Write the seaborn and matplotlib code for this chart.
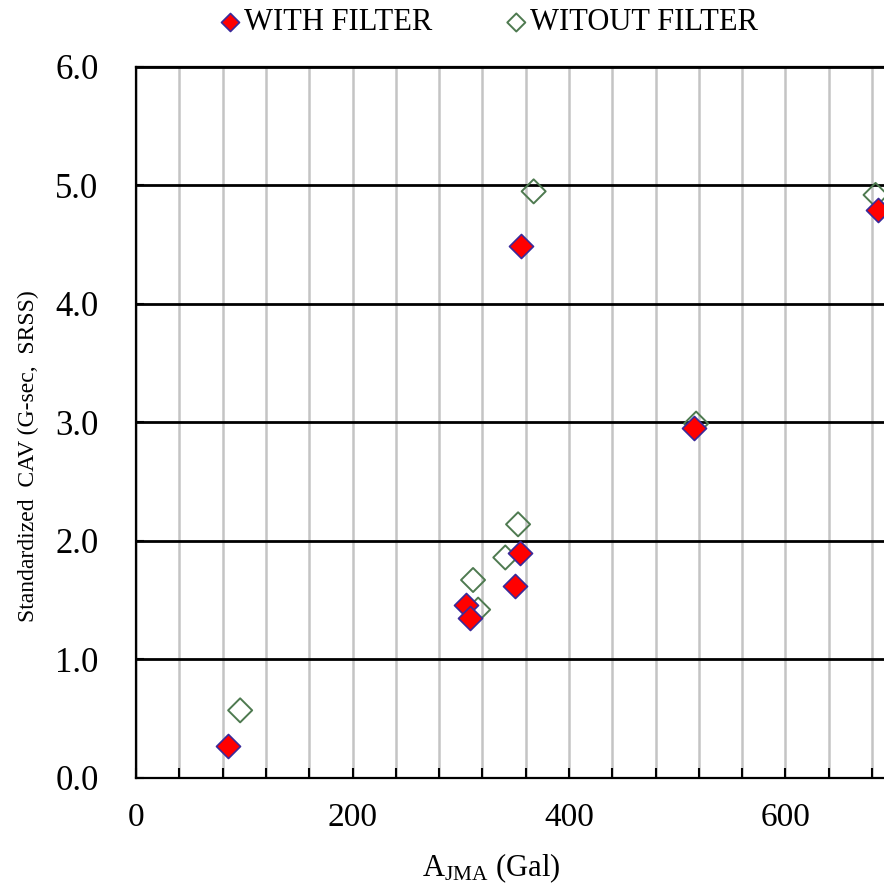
import numpy as np
import pandas as pd
import matplotlib
matplotlib.use("Agg")
import matplotlib.pyplot as plt
import seaborn as sns

# Peak ground acceleration (JMA, Gal) and standardized CAV (G-sec, SRSS)
a_jma_with = [84.8, 304.8, 308.1, 349.7, 355.0, 355.6, 515.2, 685.3]
cav_with = [0.27, 1.46, 1.35, 1.62, 1.90, 4.49, 2.95, 4.79]

a_jma_without = [96.1, 316.0, 311.3, 341.1, 352.9, 367.3, 517.4, 683.2]
cav_without = [0.57, 1.42, 1.67, 1.86, 2.14, 4.95, 2.99, 4.92]

series_labels = ["WITH FILTER", "WITOUT FILTER"]
x_tick_labels = ["0", "200", "400", "600"]
y_tick_labels = ["0.0", "1.0", "2.0", "3.0", "4.0", "5.0", "6.0"]

df_with = pd.DataFrame({"A": a_jma_with, "CAV": cav_with})
df_without = pd.DataFrame({"A": a_jma_without, "CAV": cav_without})

sns.set_theme(style="white")
plt.rcParams["font.family"] = ["Liberation Serif", "DejaVu Serif"]
plt.rcParams["mathtext.fontset"] = "custom"
plt.rcParams["mathtext.rm"] = "Liberation Serif"
plt.rcParams["mathtext.it"] = "Liberation Serif:italic"
plt.rcParams["text.color"] = "black"
plt.rcParams["axes.labelcolor"] = "black"
plt.rcParams["xtick.color"] = "black"
plt.rcParams["ytick.color"] = "black"

fig = plt.figure(figsize=(8.84, 8.89), dpi=100)
ax = fig.add_axes([0.154, 0.125, 0.857, 0.7997])

sns.scatterplot(data=df_without, x="A", y="CAV", ax=ax, marker="D", s=150,
                facecolor="none", edgecolor="#4E7A50", linewidth=1.4,
                label=series_labels[1], zorder=3)
sns.scatterplot(data=df_with, x="A", y="CAV", ax=ax, marker="D", s=150,
                color="#FF0000", edgecolor="#3A2A9A", linewidth=1.2,
                label=series_labels[0], zorder=4)

ax.set_xlim(0, 700)
ax.set_ylim(0, 6)

xt = np.arange(0, 701, 40)
ax.set_xticks(xt)
ax.set_xticklabels([x_tick_labels[int(v // 200)] if v % 200 == 0 and v < 800 else "" for v in xt])
ax.set_yticks(np.arange(0, 6.01, 1.0))
ax.set_yticklabels(y_tick_labels)

ax.tick_params(axis="x", direction="in", length=7, width=1.5, color="black",
               labelsize=24, pad=18, bottom=True, labelcolor="black")
ax.tick_params(axis="y", direction="in", length=6, width=1.5, color="black",
               labelsize=25, pad=27, left=True, labelcolor="black")

ax.xaxis.grid(True, color="#C4C4C4", linewidth=1.8)
ax.yaxis.grid(True, color="black", linewidth=2.0)
ax.set_axisbelow(True)

for side in ["left", "bottom", "top", "right"]:
    ax.spines[side].set_visible(True)
    ax.spines[side].set_color("black")
    ax.spines[side].set_linewidth(1.6)

ax.set_xlabel(r"A$_{\mathrm{JMA}}$ (Gal)", fontsize=22)
ax.xaxis.set_label_coords(0.468, -0.104)
ax.set_ylabel("Standardized  CAV (G-sec,  SRSS)", fontsize=17)
ax.yaxis.set_label_coords(-0.128, 0.453)

handles, labels = ax.get_legend_handles_labels()
order = [labels.index(series_labels[0]), labels.index(series_labels[1])]
ax.get_legend().remove()
fig.legend([handles[i] for i in order], [labels[i] for i in order],
           loc="center", bbox_to_anchor=(488 / 884, 1 - 23 / 889), ncol=2,
           frameon=False, fontsize=22, markerscale=0.75, handletextpad=0.05,
           columnspacing=2.35, handlelength=0.8)

fig.savefig("out.png", dpi=100)
